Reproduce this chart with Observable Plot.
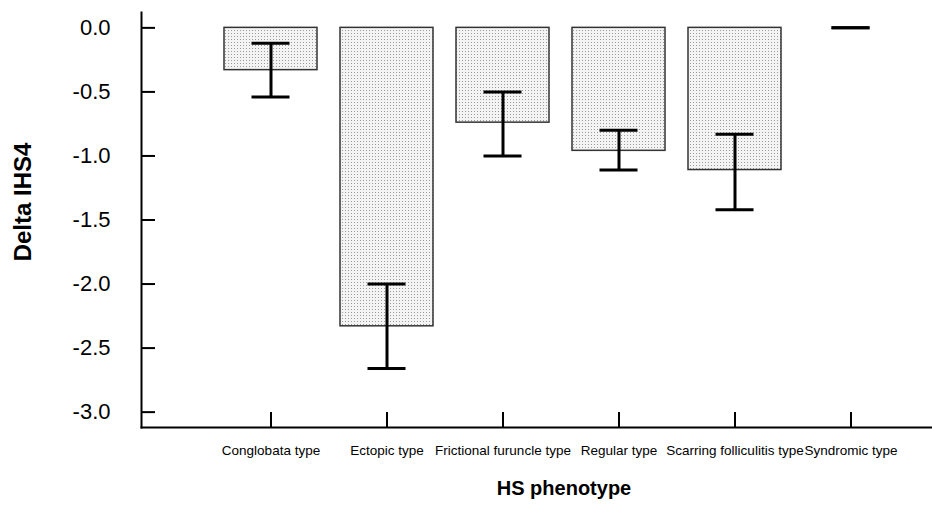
<!DOCTYPE html>
<html>
<head>
<meta charset="utf-8">
<script src="https://cdn.jsdelivr.net/npm/d3@7"></script>
<script src="https://cdn.jsdelivr.net/npm/@observablehq/plot@0.6"></script>
<style>
  html, body { margin: 0; padding: 0; background: #fff; overflow: hidden; }
  #chart svg { font-family: "Liberation Sans", Arial, sans-serif; }
</style>
</head>
<body>
<div id="chart"></div>
<script>
const categories = ["Conglobata type", "Ectopic type", "Frictional furuncle type", "Regular type", "Scarring folliculitis type", "Syndromic type"];
const means = [-0.33, -2.33, -0.74, -0.96, -1.11, 0];
const lower = [-0.54, -2.66, -1.00, -1.11, -1.42, 0];
const upper = [-0.12, -2.00, -0.50, -0.80, -0.83, 0];
const yTicks = [0, -0.5, -1.0, -1.5, -2.0, -2.5, -3.0];
const xTitle = "HS phenotype";
const yTitle = "Delta IHS4";

const data = categories.map((c, i) => ({cat: c, mean: means[i], lo: lower[i], hi: upper[i]}));

const W = 932, H = 506, mL = 141, mR = -48, mT = 12, mB = 79;
const frameW = W - mL - mR, frameH = H - mT - mB;

const chart = Plot.plot({
  width: W,
  height: H,
  marginTop: mT,
  marginBottom: mB,
  marginLeft: mL,
  marginRight: mR,
  style: {fontFamily: "Liberation Sans, Arial, sans-serif", background: "#fff", overflow: "hidden"},
  x: {domain: categories, paddingInner: 0.2, paddingOuter: 0.71, align: 0.5, label: null},
  y: {domain: [-3.12, 0.12], label: null},
  marks: [
    Plot.barY(data, {x: "cat", y1: 0, y2: "mean", fill: "url(#stipple)", stroke: "#333", strokeWidth: 1.5}),
    Plot.ruleX(data, {x: "cat", y1: "lo", y2: "hi", stroke: "#000", strokeWidth: 3}),
    Plot.tickY(data, {x: "cat", y: "lo", stroke: "#000", strokeWidth: 3, inset: 27.5}),
    Plot.tickY(data, {x: "cat", y: "hi", stroke: "#000", strokeWidth: 3, inset: 27.5}),
    Plot.frame({anchor: "left", stroke: "#000", strokeWidth: 2}),
    Plot.frame({anchor: "bottom", stroke: "#000", strokeWidth: 2}),
    // inward tick marks
    Plot.ruleY(yTicks, {y: d => d, insetRight: frameW - 14, stroke: "#000", strokeWidth: 2}),
    Plot.ruleX(categories, {x: d => d, insetTop: frameH - 15, stroke: "#000", strokeWidth: 2}),
    Plot.axisY({ticks: yTicks, tickFormat: d => d.toFixed(1), tickSize: 0, tickPadding: 31,
      fontSize: 22, color: "#000", label: null}),
    Plot.axisX({tickSize: 0, tickPadding: 18, fontSize: 13.5, color: "#000", label: null}),
    Plot.text([yTitle], {text: d => d, frameAnchor: "left", rotate: -90, dx: -118, dy: -18,
      textAnchor: "middle", fontSize: 24, fontWeight: "bold", fill: "#000", lineAnchor: "middle"}),
    Plot.text([xTitle], {text: d => d, frameAnchor: "bottom", dx: 3, dy: 61,
      textAnchor: "middle", fontSize: 20, fontWeight: "bold", fill: "#000", lineAnchor: "middle"})
  ]
});

const ns = "http://www.w3.org/2000/svg";
const defs = document.createElementNS(ns, "defs");
const pat = document.createElementNS(ns, "pattern");
pat.setAttribute("id", "stipple");
pat.setAttribute("patternUnits", "userSpaceOnUse");
pat.setAttribute("width", "3");
pat.setAttribute("height", "3");
const bg = document.createElementNS(ns, "rect");
bg.setAttribute("width", "3"); bg.setAttribute("height", "3"); bg.setAttribute("fill", "#f4f4f4");
const dot = document.createElementNS(ns, "rect");
dot.setAttribute("width", "1"); dot.setAttribute("height", "1"); dot.setAttribute("fill", "#9a9a9a");
pat.appendChild(bg); pat.appendChild(dot);
defs.appendChild(pat);
chart.insertBefore(defs, chart.firstChild);

document.getElementById("chart").appendChild(chart);
</script>
</body>
</html>
